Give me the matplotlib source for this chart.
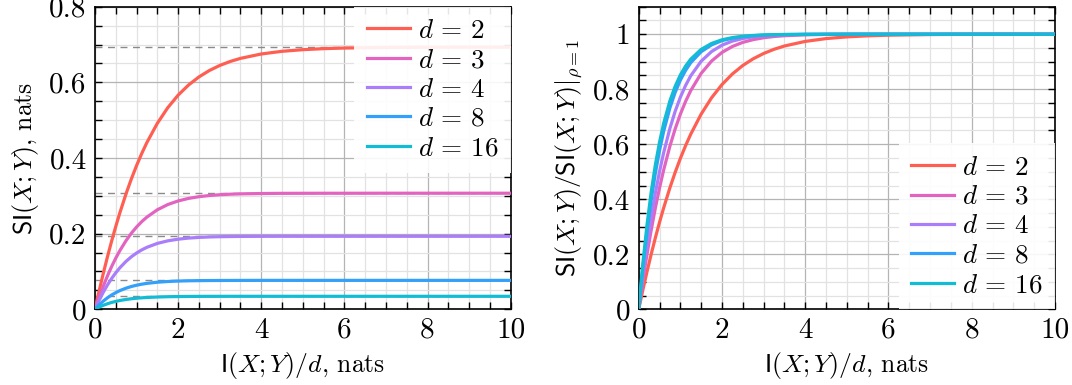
import matplotlib
matplotlib.use("Agg")
import matplotlib.pyplot as plt
from matplotlib.ticker import MultipleLocator, FuncFormatter

# ---------------- data ----------------
x_vals = [0, 0.1, 0.2, 0.3, 0.4, 0.5, 0.6, 0.75, 0.875, 1.0, 1.125, 1.25, 1.5, 1.75,
          2.0, 2.25, 2.5, 2.75, 3.0, 3.25, 3.5, 4.0, 4.5, 5.0, 5.5, 6.0, 7.0, 8.0, 10.0]

labels = [r"$d\,=\,2$", r"$d\,=\,3$", r"$d\,=\,4$", r"$d\,=\,8$", r"$d\,=\,16$"]

# left panel: SI(X;Y), nats
si_d2 = [0, 0.0488, 0.0950, 0.1388, 0.1801, 0.2191, 0.2557, 0.3063, 0.3447, 0.3799,
         0.4120, 0.4412, 0.4917, 0.5329, 0.5662, 0.5929, 0.6143, 0.6312, 0.6446, 0.6551,
         0.6634, 0.6750, 0.6821, 0.6864, 0.6891, 0.6907, 0.6922, 0.6928, 0.6931]
si_d3 = [0, 0.0320, 0.0614, 0.0882, 0.1130, 0.1353, 0.1555, 0.1820, 0.2011, 0.2176,
         0.2318, 0.2439, 0.2631, 0.2769, 0.2865, 0.2932, 0.2977, 0.3008, 0.3029, 0.3043,
         0.3052, 0.3061, 0.3066, 0.3067, 0.3068, 0.3068, 0.3069, 0.3069, 0.3069]
si_d4 = [0, 0.0238, 0.0452, 0.0643, 0.0814, 0.0966, 0.1100, 0.1271, 0.1389, 0.1488,
         0.1571, 0.1639, 0.1742, 0.1810, 0.1854, 0.1883, 0.1901, 0.1913, 0.1920, 0.1924,
         0.1927, 0.1930, 0.1931, 0.1931, 0.1931, 0.1931, 0.1931, 0.1931, 0.1931]
si_d8 = [0, 0.0117, 0.0217, 0.0304, 0.0378, 0.0441, 0.0495, 0.0560, 0.0603, 0.0637,
         0.0664, 0.0686, 0.0716, 0.0735, 0.0747, 0.0754, 0.0758, 0.0761, 0.0762, 0.0763,
         0.0764, 0.0765, 0.0765, 0.0765, 0.0765, 0.0765, 0.0765, 0.0765, 0.0765]
si_d16 = [0, 0.0058, 0.0106, 0.0147, 0.0181, 0.0209, 0.0233, 0.0261, 0.0279, 0.0293,
          0.0304, 0.0313, 0.0325, 0.0333, 0.0337, 0.0340, 0.0342, 0.0343, 0.0343, 0.0344,
          0.0344, 0.0344, 0.0344, 0.0344, 0.0344, 0.0344, 0.0344, 0.0344, 0.0344]

# asymptotes (rho = 1), dashed reference lines
si_rho1 = [0.6931, 0.3069, 0.1931, 0.0765, 0.0344]

# right panel: SI(X;Y) / SI(X;Y)|_{rho=1}
n_d2 = [0, 0.0703, 0.1371, 0.2002, 0.2599, 0.3161, 0.3688, 0.4419, 0.4973, 0.5481,
        0.5944, 0.6365, 0.7094, 0.7688, 0.8169, 0.8554, 0.8862, 0.9106, 0.9299, 0.9451,
        0.9571, 0.9738, 0.9841, 0.9903, 0.9941, 0.9964, 0.9987, 0.9995, 0.9999]
n_d3 = [0, 0.1043, 0.2002, 0.2874, 0.3681, 0.4408, 0.5066, 0.5932, 0.6552, 0.7090,
        0.7553, 0.7950, 0.8575, 0.9023, 0.9337, 0.9554, 0.9703, 0.9803, 0.9871, 0.9916,
        0.9945, 0.9977, 0.9991, 0.9996, 0.9998, 1.0, 1.0, 1.0, 1.0]
n_d4 = [0, 0.1231, 0.2339, 0.3332, 0.4217, 0.5002, 0.5695, 0.6580, 0.7192, 0.7705,
        0.8133, 0.8487, 0.9017, 0.9369, 0.9600, 0.9749, 0.9843, 0.9903, 0.9940, 0.9963,
        0.9977, 0.9992, 0.9997, 0.9999, 1.0, 1.0, 1.0, 1.0, 1.0]
n_d8 = [0, 0.1524, 0.2841, 0.3974, 0.4944, 0.5770, 0.6471, 0.7323, 0.7880, 0.8327,
        0.8682, 0.8964, 0.9363, 0.9611, 0.9767, 0.9855, 0.9912, 0.9947, 0.9968, 0.9980,
        0.9988, 0.9996, 0.9998, 0.9999, 1.0, 1.0, 1.0, 1.0, 1.0]
n_d16 = [0, 0.1670, 0.3079, 0.4261, 0.5251, 0.6075, 0.6762, 0.7579, 0.8103, 0.8516,
         0.8839, 0.9093, 0.9448, 0.9664, 0.9797, 0.9876, 0.9925, 0.9954, 0.9973, 0.9983,
         0.9990, 0.9996, 0.9999, 1.0, 1.0, 1.0, 1.0, 1.0, 1.0]

colors = ["#ff5f52", "#e364c0", "#aa7dfa", "#33a0fa", "#12bcd4"]

# ---------------- style ----------------
FS = 21      # tick labels
LFS = 18.5   # axis labels
GFS = 19.5   # legend
plt.rcParams.update({
    "font.family": "serif",
    "font.serif": ["cmr10"],
    "mathtext.fontset": "cm",
    "axes.formatter.use_mathtext": True,
    "font.size": FS,
    "axes.unicode_minus": False,
})

fig = plt.figure(figsize=(10.72, 3.85), dpi=100)
ax1 = fig.add_axes([0.0886, 0.1966, 0.3878, 0.786])
ax2 = fig.add_axes([0.5958, 0.1966, 0.3883, 0.786])

fmt = FuncFormatter(lambda v, p: f"{v:g}")


def style(ax, ymax):
    ax.set_xlim(0, 10)
    ax.set_ylim(0, ymax)
    ax.xaxis.set_major_locator(MultipleLocator(2))
    ax.xaxis.set_minor_locator(MultipleLocator(0.5))
    ax.yaxis.set_major_locator(MultipleLocator(0.2))
    ax.yaxis.set_minor_locator(MultipleLocator(0.05))
    ax.xaxis.set_major_formatter(fmt)
    ax.yaxis.set_major_formatter(fmt)
    ax.set_axisbelow(True)
    ax.grid(which="major", color="#b4b4b4", lw=0.9)
    ax.grid(which="minor", color="#e2e2e2", lw=0.9)
    ax.tick_params(which="both", direction="in", top=True, right=True,
                   length=5, width=1.0, labelsize=FS, pad=6)
    for s in ax.spines.values():
        s.set_linewidth(1.2)


style(ax1, 0.8)
style(ax2, 1.1)

left_series = [si_d2, si_d3, si_d4, si_d8, si_d16]
right_series = [n_d2, n_d3, n_d4, n_d8, n_d16]

for a in si_rho1:
    ax1.axhline(a, color="#8a8a8a", lw=1.0, ls=(0, (5, 4)), zorder=1.5)

for ys, c, lab in zip(left_series, colors, labels):
    ax1.plot(x_vals, ys, color=c, lw=2.3, label=lab, zorder=3,
             solid_joinstyle="round")
for ys, c, lab in zip(right_series, colors, labels):
    ax2.plot(x_vals, ys, color=c, lw=2.3, label=lab, zorder=3,
             solid_joinstyle="round")

legkw = dict(borderaxespad=0.0, frameon=True, fancybox=False, edgecolor="none",
             facecolor="white", framealpha=0.9, handlelength=1.6,
             handletextpad=0.3, labelspacing=0.2, borderpad=0.45, fontsize=GFS)
l1 = ax1.legend(loc="upper right", **legkw)
l2 = ax2.legend(loc="lower right", **legkw)
l1.set_zorder(5)
l2.set_zorder(5)

ax1.set_xlabel(r"$\mathsf{I}(X;Y)/d$, nats", fontsize=LFS, labelpad=4)
ax2.set_xlabel(r"$\mathsf{I}(X;Y)/d$, nats", fontsize=LFS, labelpad=4)
ax1.set_ylabel(r"$\mathsf{SI}(X;Y)$, nats", fontsize=LFS, labelpad=6)
ax2.set_ylabel(r"$\mathsf{SI}(X;Y)/\mathsf{SI}(X;Y)|_{\rho=1}$", fontsize=LFS, labelpad=6)

fig.savefig("out.png", dpi=100)
